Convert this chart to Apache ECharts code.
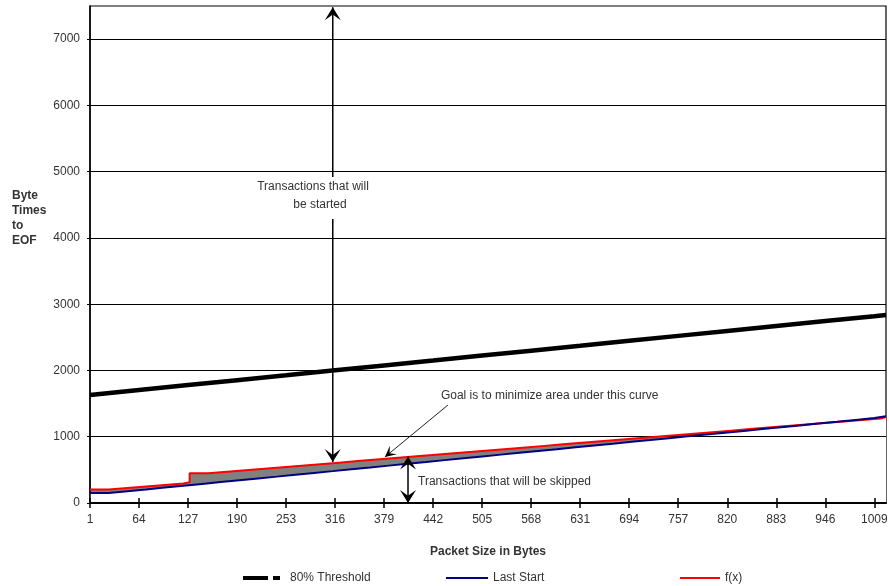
<!DOCTYPE html>
<html>
<head>
<meta charset="utf-8">
<script src="https://cdn.jsdelivr.net/npm/echarts@6/dist/echarts.min.js"></script>
<style>
html,body{margin:0;padding:0;background:#fff;}
#chart{width:889px;height:586px;}
</style>
</head>
<body>
<div id="chart"></div>
<script>
// ---- data ----
const packetTicks = [1,64,127,190,253,316,379,442,505,568,631,694,757,820,883,946,1009];
const yTickValues = [0,1000,2000,3000,4000,5000,6000,7000];

const thresholdX = [1,64,127,190,253,316,379,442,505,568,631,694,757,820,883,946,1009,1024];
const thresholdY = [1630,1704,1779,1853,1927,2002,2076,2150,2225,2299,2373,2448,2522,2596,2671,2745,2819,2837];

const lastStartX = [1,25,49,73,97,121,145,169,193,217,241,265,289,313,337,361,385,409,433,457,481,505,529,553,577,601,625,649,673,697,721,745,769,793,817,841,865,889,913,937,961,985,1009,1024];
const lastStartY = [150,178,205,233,260,288,316,343,371,398,426,454,481,509,536,564,592,619,647,674,702,730,757,785,812,840,868,895,923,950,978,1006,1033,1061,1088,1116,1144,1171,1199,1226,1254,1282,1309,1309];

const fxX = [1,25,49,73,97,121,129,153,177,201,225,249,273,297,321,345,369,393,417,441,465,489,513,537,561,585,609,633,657,681,705,729,753,777,801,825,849,873,897,921,945,969,993,1017,1024];
const fxY = [205,227,249,271,293,315,448,471,494,517,540,563,586,609,632,655,678,701,724,747,770,793,816,839,862,885,908,931,954,977,1000,1023,1046,1069,1092,1115,1138,1161,1184,1207,1230,1253,1276,1299,1299];

const seriesNames = ['80% Threshold', 'Last Start', 'f(x)'];

// ---- build ----
const zip = (xs, ys) => xs.map((x, i) => [x, ys[i]]);
const FONT = "'Liberation Sans', Arial, sans-serif";
const TXT = '#333';
const plain = v => String(v);

const chart = echarts.init(document.getElementById('chart'), null, {renderer: 'canvas'});

const option = {
  animation: false,
  backgroundColor: '#fff',
  grid: {left: 90, right: 3, top: 6, bottom: 83, outerBoundsMode: 'none', containLabel: false,
         show: true, borderColor: '#000', borderWidth: 1.2, backgroundColor: 'transparent'},
  legend: [
    {data: [{name: seriesNames[0], icon: 'path://M0,0H25V4H0ZM30,0H37V4H30Z'}], left: 243, top: 572, padding: 0, itemWidth: 37, itemHeight: 4, selectedMode: false,
     textStyle: {fontFamily: FONT, fontSize: 12, color: TXT, padding: [0,0,0,5]}},
    {data: [{name: seriesNames[1], icon: 'path://M0,0H42V2H0Z'}], left: 446, top: 572, padding: 0, itemWidth: 42, itemHeight: 2, selectedMode: false,
     textStyle: {fontFamily: FONT, fontSize: 12, color: TXT}},
    {data: [{name: seriesNames[2], icon: 'path://M0,0H40V2H0Z'}], left: 680, top: 572, padding: 0, itemWidth: 40, itemHeight: 2, selectedMode: false,
     textStyle: {fontFamily: FONT, fontSize: 12, color: TXT}}
  ],
  xAxis: [
    {type: 'value', min: 1, max: 1024, z: 4,
     name: 'Packet Size in Bytes', nameLocation: 'middle', nameGap: 43,
     nameTextStyle: {fontFamily: FONT, fontSize: 12, fontWeight: 'bold', color: TXT},
     axisLine: {show: true, onZero: false, lineStyle: {color: '#000', width: 2}},
     axisTick: {show: true, length: 5, customValues: packetTicks, lineStyle: {color: '#000', width: 1.5}},
     axisLabel: {customValues: packetTicks, formatter: plain, margin: 11, fontFamily: FONT, fontSize: 12, color: TXT},
     splitLine: {show: false}},
    {type: 'value', min: 1, max: 1024, position: 'bottom', z: 4,
     axisLine: {show: false, onZero: false},
     axisTick: {show: true, inside: true, length: 5, customValues: packetTicks, lineStyle: {color: '#000', width: 1.5}},
     axisLabel: {show: false},
     splitLine: {show: false}}
  ],
  yAxis: {type: 'value', min: 0, max: 7500, interval: 1000, z: 4,
    axisLine: {show: true, lineStyle: {color: '#000', width: 1.5}},
    axisTick: {show: true, length: 3, customValues: yTickValues, lineStyle: {color: '#000'}},
    axisLabel: {customValues: yTickValues, formatter: plain, margin: 10, fontFamily: FONT, fontSize: 12, color: TXT},
    splitLine: {show: true, lineStyle: {color: '#000', width: 1}}
  },
  series: [
    {name: seriesNames[0], type: 'line', data: zip(thresholdX, thresholdY), symbol: 'none', z: 6,
     lineStyle: {color: '#000', width: 4.5}, itemStyle: {color: '#000'}},
    {name: 'fillUnderFx', type: 'line', step: 'end', data: zip(fxX, fxY), symbol: 'none', z: 2, silent: true,
     lineStyle: {width: 0}, areaStyle: {color: '#808080', opacity: 1}},
    {name: 'fillUnderLastStart', type: 'line', step: 'end', data: zip(lastStartX, lastStartY), symbol: 'none', z: 3, silent: true,
     lineStyle: {width: 0}, areaStyle: {color: '#ffffff', opacity: 1}},
    {name: seriesNames[2], type: 'line', step: 'end', data: zip(fxX, fxY), symbol: 'none', z: 6,
     lineStyle: {color: '#ff0000', width: 2}, itemStyle: {color: '#ff0000'}},
    {name: seriesNames[1], type: 'line', step: 'end', data: zip(lastStartX, lastStartY), symbol: 'none', z: 7,
     lineStyle: {color: '#000080', width: 2}, itemStyle: {color: '#000080'}}
  ]
};
chart.setOption(option);

// ---- annotations (anchored in data coordinates) ----
const ann = {
  started: {x: 313, yTop: 7480, yBottom: 618, gapTop: 4920, gapBottom: 4285,
            line1: {x: 287.6, y: 4767, text: 'Transactions that will'},
            line2: {x: 296.6, y: 4495, text: 'be started'}},
  goal: {text: 'Goal is to minimize area under this curve', tx: 452, ty: 1614, from: [461, 1478], to: [380, 694]},
  skipped: {x: 409.7, yTop: 701, yBottom: 0, tx: 422.6, ty: 317, text: 'Transactions that will be skipped'}
};
const P = (x, y) => chart.convertToPixel({seriesIndex: 0}, [x, y]);

function head(tip, from, L, W) {
  const dx = tip[0] - from[0], dy = tip[1] - from[1];
  const len = Math.hypot(dx, dy) || 1;
  const ux = dx / len, uy = dy / len, nx = -uy, ny = ux;
  const bx = tip[0] - ux * L, by = tip[1] - uy * L;
  const mx = tip[0] - ux * L * 0.55, my = tip[1] - uy * L * 0.55;
  return {type: 'polygon', z: 100, silent: true,
    shape: {points: [tip, [bx + nx * W / 2, by + ny * W / 2], [mx, my], [bx - nx * W / 2, by - ny * W / 2]]},
    style: {fill: '#000'}};
}
function seg(a, b, w, c) {
  return {type: 'line', z: 100, silent: true, shape: {x1: a[0], y1: a[1], x2: b[0], y2: b[1]}, style: {stroke: c || '#000', lineWidth: w}};
}
function label(p, text, align) {
  return {type: 'text', z: 100, silent: true, x: p[0], y: p[1],
    style: {text: text, fill: TXT, font: '12px ' + FONT, align: align, verticalAlign: 'middle'}};
}

const g = [];
{
  const s = ann.started;
  const top = P(s.x, s.yTop), bot = P(s.x, s.yBottom);
  const gt = P(s.x, s.gapTop), gb = P(s.x, s.gapBottom);
  g.push(seg(top, gt, 1.5), seg(gb, bot, 1.5));
  g.push(head(top, bot, 13, 16), head(bot, top, 13, 16));
  g.push(label(P(s.line1.x, s.line1.y), s.line1.text, 'center'));
  g.push(label(P(s.line2.x, s.line2.y), s.line2.text, 'center'));
}
{
  const s = ann.goal;
  const a = P(s.from[0], s.from[1]), b = P(s.to[0], s.to[1]);
  g.push(seg(a, b, 1, '#222'));
  g.push(head(b, a, 11, 11));
  g.push(label(P(s.tx, s.ty), s.text, 'left'));
}
{
  const s = ann.skipped;
  const top = P(s.x, s.yTop), bot = P(s.x, s.yBottom);
  g.push(seg(top, bot, 1.5));
  g.push(head(top, bot, 13, 16), head(bot, top, 13, 16));
  g.push(label(P(s.tx, s.ty), s.text, 'left'));
}
g.push({type: 'text', z: 100, silent: true, x: 12, y: 188,
  style: {text: 'Byte\nTimes\nto\nEOF', fill: TXT, font: 'bold 12px ' + FONT, lineHeight: 15, align: 'left', verticalAlign: 'top'}});

chart.setOption({graphic: g});
</script>
</body>
</html>
